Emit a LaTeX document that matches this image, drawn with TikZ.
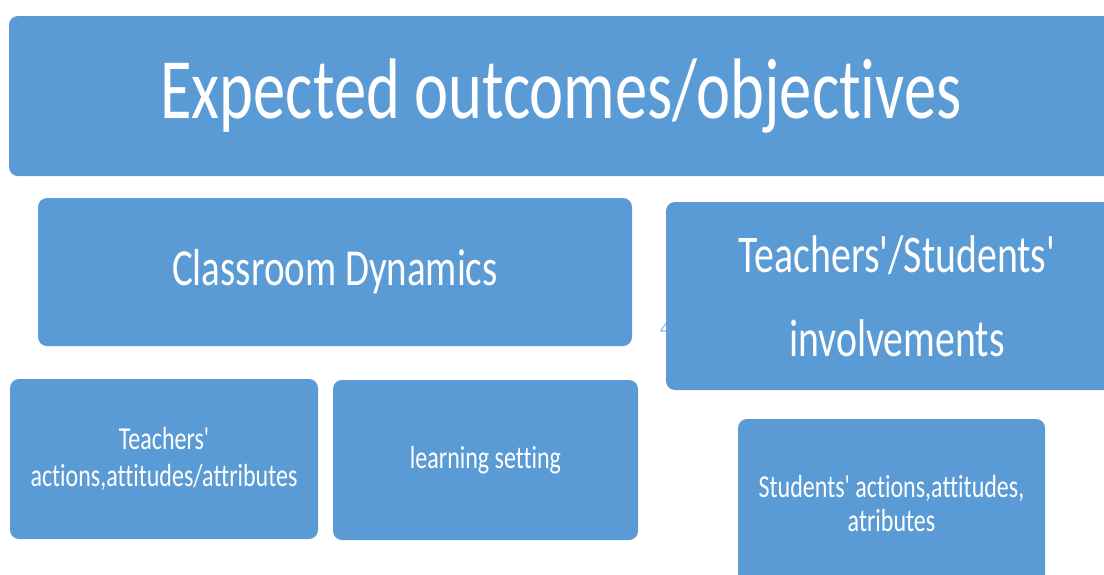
\documentclass[tikz,border=0pt]{standalone}
\usepackage{fontspec}
\setmainfont{Carlito}
\newfontfamily\narrowfont[FakeStretch=0.75, Ligatures=NoCommon]{Carlito}
\definecolor{boxblue}{RGB}{91,155,213}
\definecolor{stray}{RGB}{140,185,228}
\tikzset{
  box/.style={fill=boxblue, rounded corners=9pt, text=white, align=center,
              inner sep=0pt, font=\narrowfont},
}
\begin{document}
\begin{tikzpicture}[x=1pt, y=-1pt]
      \useasboundingbox (0, 0) rectangle (1104, 574);
      % stray digit, mostly hidden under the right box
      \node (num) [text=stray, font=\fontsize{20}{20}\selectfont] at (665, 329) {4};
      \node (goal) [box, minimum width=1104pt, minimum height=160pt,
                    font=\narrowfont\fontsize{86}{86}\selectfont] at (561, 96)
            {Expected outcomes/objectives};
      \node (dyn) [box, minimum width=594pt, minimum height=148pt,
                   font=\narrowfont\fontsize{52}{52}\selectfont] at (335, 272)
            {Classroom Dynamics};
      \node (inv) [box, minimum width=462pt, minimum height=188pt,
                   font=\narrowfont\fontsize{53}{84}\selectfont] at (897, 296)
            {Teachers'/Students'\\involvements};
      \node (teach) [box, minimum width=308pt, minimum height=160pt,
                     font=\narrowfont\fontsize{32}{37}\selectfont] at (164, 459)
            {Teachers'\\actions,attitudes/attributes};
      \node (set) [box, minimum width=305pt, minimum height=160pt,
                   font=\narrowfont\fontsize{32}{38}\selectfont] at (485.5, 460)
            {learning setting};
      \node (stud) [box, minimum width=307pt, minimum height=168pt,
                    font=\narrowfont\fontsize{32}{34}\selectfont] at (891.5, 503)
            {Students' actions,attitudes,\\atributes};
\end{tikzpicture}
\end{document}
